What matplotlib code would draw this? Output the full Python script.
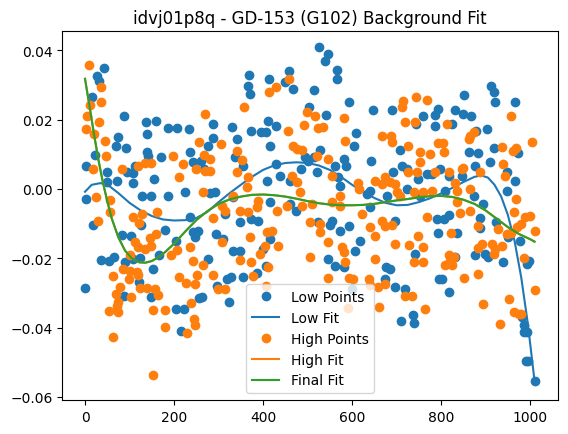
import matplotlib
matplotlib.use("Agg")
import matplotlib.pyplot as plt
import numpy as np

title = "idvj01p8q - GD-153 (G102) Background Fit"

low_points = [
    (43,0.0348),(27,0.0327),(31,0.0313),(16,0.0265),(88,0.0210),(138,0.0192),(159,0.0195),(140,0.0159),
    (187,0.0175),(207,0.0175),(234,0.0173),(74,0.0149),(69,0.0123),(92,0.0118),(22,0.0098),(140,0.0108),
    (142,0.0094),(170,0.0092),(235,0.0106),(242,0.0079),(2,0.0065),(50,0.0050),(112,0.0067),(107,0.0045),
    (95,0.0048),(155,0.0029),(107,0.0017),(50,0.0019),(71,0.0024),(224,-0.0010),(128,-0.0019),(149,-0.0019),
    (187,-0.0019),(2,-0.0030),
    (18,-0.0105),(84,-0.0133),(104,-0.0137),(125,-0.0104),(179,-0.0118),(243,-0.0125),(254,-0.0120),(247,-0.0139),
    (204,-0.0151),(35,-0.0205),(54,-0.0207),(65,-0.0197),(89,-0.0212),(108,-0.0202),(123,-0.0200),(167,-0.0190),
    (153,-0.0231),(122,-0.0268),(0,-0.0286),(87,-0.0310),(149,-0.0313),(204,-0.0346),(222,-0.0346),(257,-0.0315),
    (215,-0.0411),
    (526,0.0409),(368,0.0329),(367,0.0298),(371,0.0274),(413,0.0317),(459,0.0341),(449,0.0308),(467,0.0289),
    (515,0.0287),(288,0.0188),(331,0.0178),(412,0.0197),(429,0.0181),(374,0.0168),(395,0.0165),(407,0.0164),
    (341,0.0144),(287,0.0146),(277,0.0125),(416,0.0125),(337,0.0091),(260,0.0082),(267,0.0058),(504,0.0236),
    (494,0.0091),(502,0.0082),(515,0.0091),(521,0.0048),(356,0.0067),(408,0.0024),(429,0.0072),(437,0.0038),
    (461,0.0024),(485,0.0058),(292,-0.0010),
    (280,-0.0012),(333,-0.0024),(416,-0.0038),(461,-0.0043),(474,-0.0063),(236,-0.0082),(314,-0.0072),(348,-0.0094),
    (374,-0.0087),(389,-0.0091),(294,-0.0130),(311,-0.0144),(416,-0.0144),(332,-0.0178),(348,-0.0178),(399,-0.0173),
    (277,-0.0202),(407,-0.0223),(386,-0.0242),(318,-0.0260),(329,-0.0255),(356,-0.0255),(296,-0.0279),(262,-0.0313),
    (324,-0.0327),
    (545,0.0390),(539,0.0370),(567,0.0344),(566,0.0317),(594,0.0250),(648,0.0228),(689,0.0228),(542,0.0214),
    (609,0.0162),(605,0.0123),(760,0.0210),(794,0.0231),(787,0.0214),(787,0.0183),(744,0.0188),(708,0.0113),
    (527,0.0113),(581,0.0087),(587,0.0067),(562,0.0067),(642,0.0080),(569,0.0034),(573,0.0010),(693,0.0048),
    (712,0.0067),(723,0.0058),(749,0.0029),(768,0.0043),(779,0.0043),(641,-0.0005),(633,-0.0014),(678,-0.0019),
    (723,0.0000),(753,-0.0019),(797,0.0058),
    (554,-0.0091),(551,-0.0104),(573,-0.0120),(524,-0.0096),(592,-0.0106),(618,-0.0149),(607,-0.0178),(641,-0.0053),
    (697,-0.0091),(547,-0.0202),(562,-0.0221),(581,-0.0226),(677,-0.0226),(686,-0.0231),(674,-0.0260),(697,-0.0282),
    (719,-0.0289),(742,-0.0188),(795,-0.0260),(710,-0.0380),(737,-0.0364),(738,-0.0387),(599,-0.0289),
    (912,0.0298),(918,0.0279),(922,0.0250),(967,0.0250),(852,0.0271),(832,0.0228),(850,0.0216),(868,0.0210),
    (824,0.0188),(904,0.0173),(878,0.0168),(918,0.0118),(972,0.0104),(862,0.0106),(884,0.0103),(877,0.0065),
    (909,0.0077),(948,0.0048),(817,0.0038),(847,0.0038),(967,0.0024),(948,-0.0005),(809,-0.0005),(873,-0.0019),
    (894,-0.0043),(791,-0.0087),(806,-0.0087),(817,-0.0075),(794,-0.0127),(836,-0.0127),(888,-0.0085),(888,-0.0113),
    (924,-0.0094),(950,-0.0139),(977,-0.0149),(877,-0.0190),(899,-0.0188),(905,-0.0197),(940,-0.0210),(997,-0.0207),
    (994,-0.0216),(832,-0.0197),(801,-0.0259),(817,-0.0298),(982,-0.0370),(987,-0.0394),(992,-0.0414),(986,-0.0414),
    (990,-0.0496),(996,-0.0496),(1010,-0.0555),
]

high_points = [
    (8,0.0358),(37,0.0293),(35,0.0252),(11,0.0242),(5,0.0210),(31,0.0192),(2,0.0173),(20,0.0159),
    (46,0.0138),(47,0.0095),(17,0.0058),(84,0.0058),(119,0.0065),(134,0.0074),(148,0.0074),(197,0.0096),
    (220,0.0072),(211,0.0034),(250,0.0058),(256,0.0135),(24,-0.0022),(56,-0.0033),
    (57,-0.0067),(29,-0.0091),(108,-0.0082),(127,-0.0072),(162,-0.0067),(122,-0.0099),(159,-0.0130),(146,-0.0142),
    (112,-0.0154),(119,-0.0168),(134,-0.0173),(149,-0.0165),(101,-0.0192),(236,-0.0168),(206,-0.0175),(194,-0.0192),
    (242,-0.0207),(86,-0.0231),(101,-0.0236),(116,-0.0240),(62,-0.0250),(99,-0.0260),(119,-0.0247),(212,-0.0255),
    (228,-0.0271),(246,-0.0274),(78,-0.0284),(123,-0.0286),(140,-0.0286),(157,-0.0289),(69,-0.0303),(164,-0.0306),
    (104,-0.0313),(74,-0.0327),(72,-0.0337),(54,-0.0353),(74,-0.0356),(152,-0.0349),(179,-0.0348),(237,-0.0330),
    (244,-0.0375),(179,-0.0399),(230,-0.0416),(63,-0.0428),(153,-0.0536),(251,-0.0248),
    (269,0.0216),(357,0.0236),(414,0.0281),(429,0.0294),(459,0.0316),(498,0.0221),(517,0.0210),(491,0.0185),
    (524,0.0175),(455,0.0167),(305,0.0130),(467,0.0125),(477,0.0115),(487,0.0113),(267,0.0098),(281,0.0087),
    (341,0.0111),(352,0.0084),(269,0.0053),(281,0.0053),(341,0.0048),(367,0.0034),(365,0.0005),(464,0.0038),
    (476,0.0019),(482,-0.0008),(521,0.0094),(266,-0.0008),(333,-0.0019),
    (307,-0.0048),(314,-0.0063),(348,-0.0063),(367,-0.0067),(386,-0.0053),(389,-0.0034),(431,-0.0063),(453,-0.0048),
    (487,-0.0048),(506,-0.0096),(288,-0.0085),(408,-0.0125),(419,-0.0120),(371,-0.0139),(307,-0.0152),(404,-0.0164),
    (434,-0.0164),(393,-0.0188),(348,-0.0204),(374,-0.0210),(264,-0.0219),(412,-0.0226),(288,-0.0248),(377,-0.0252),
    (506,-0.0197),(299,-0.0289),(314,-0.0289),(407,-0.0279),(247,-0.0394),
    (534,0.0178),(582,0.0204),(714,0.0255),(712,0.0236),(744,0.0265),(768,0.0258),(718,0.0192),(742,0.0192),
    (667,0.0152),(687,0.0152),(689,0.0135),(584,0.0139),(725,0.0123),(753,0.0108),(776,0.0101),(794,0.0133),
    (545,0.0087),(752,0.0077),(554,0.0038),(725,0.0050),(746,0.0048),(787,0.0048),(614,0.0017),(652,0.0024),
    (667,0.0014),(686,0.0021),(697,0.0014),(674,0.0034),(701,-0.0010),(708,-0.0019),(738,-0.0010),(760,-0.0010),
    (779,-0.0005),(573,-0.0019),(615,0.0000),
    (573,-0.0048),(554,-0.0038),(509,-0.0043),(528,-0.0101),(528,-0.0123),(622,-0.0072),(667,-0.0091),(674,-0.0106),
    (689,-0.0104),(641,-0.0111),(652,-0.0135),(697,-0.0159),(768,-0.0082),(749,-0.0135),(729,-0.0162),(759,-0.0168),
    (577,-0.0168),(581,-0.0183),(547,-0.0154),(584,-0.0212),(652,-0.0202),(738,-0.0212),(760,-0.0212),(547,-0.0258),
    (592,-0.0258),(603,-0.0260),(637,-0.0260),(659,-0.0284),(674,-0.0274),(719,-0.0308),(734,-0.0310),(661,-0.0341),
    (764,-0.0346),(641,-0.0277),(590,-0.0344),
    (813,0.0188),(956,0.0210),(1004,0.0137),(865,0.0154),(862,0.0144),(873,0.0164),(804,0.0133),(806,0.0106),
    (937,0.0120),(962,0.0111),(969,0.0118),(939,0.0072),(817,0.0048),(847,0.0058),(850,0.0060),(887,0.0048),
    (944,0.0038),(832,0.0017),(836,-0.0005),(866,0.0000),(969,-0.0029),
    (836,-0.0038),(843,-0.0069),(864,-0.0065),(963,-0.0067),(989,-0.0082),(1000,-0.0079),(980,-0.0101),(971,-0.0111),
    (884,-0.0106),(927,-0.0115),(947,-0.0130),(956,-0.0127),(1012,-0.0120),(822,-0.0127),(892,-0.0159),(884,-0.0171),
    (914,-0.0159),(922,-0.0173),(937,-0.0165),(918,-0.0188),(817,-0.0190),(828,-0.0197),(821,-0.0207),(809,-0.0219),
    (824,-0.0219),(986,-0.0200),(852,-0.0258),(882,-0.0245),(1010,-0.0291),(952,-0.0317),(894,-0.0332),(963,-0.0356),
    (974,-0.0361),(980,-0.0361),(933,-0.0390),
]

low_fit = [
    (0,-0.0008),(15,0.0012),(35,0.0017),(55,0.0008),(75,-0.0012),(100,-0.0040),(125,-0.0062),(150,-0.0078),
    (175,-0.0088),(200,-0.0091),(225,-0.0090),(250,-0.0084),(275,-0.0066),(300,-0.0038),(325,-0.0012),(350,0.0012),
    (375,0.0035),(400,0.0055),(425,0.0068),(450,0.0075),(475,0.0077),(500,0.0075),(525,0.0068),(550,0.0055),
    (575,0.0035),(600,0.0012),(625,-0.0008),(650,-0.0026),(675,-0.0040),(700,-0.0047),(725,-0.0046),(750,-0.0038),
    (775,-0.0027),(800,-0.0013),(825,0.0003),(850,0.0020),(875,0.0035),(890,0.0039),(905,0.0033),(920,0.0012),
    (935,-0.0022),(950,-0.0075),(965,-0.0150),(980,-0.0255),(995,-0.0390),(1010,-0.0555),
]

final_fit = [
    (0,0.0318),(10,0.0240),(20,0.0160),(30,0.0085),(40,0.0020),(50,-0.0035),(60,-0.0085),(75,-0.0140),
    (90,-0.0178),(105,-0.0200),(120,-0.0211),(135,-0.0213),(150,-0.0208),(165,-0.0197),(180,-0.0182),(200,-0.0158),
    (225,-0.0123),(250,-0.0090),(275,-0.0064),(300,-0.0043),(325,-0.0030),(350,-0.0022),(375,-0.0017),(400,-0.0016),
    (425,-0.0018),(450,-0.0022),(475,-0.0028),(500,-0.0035),(525,-0.0041),(550,-0.0045),(575,-0.0047),(600,-0.0047),
    (625,-0.0046),(650,-0.0043),(675,-0.0038),(700,-0.0033),(725,-0.0029),(750,-0.0024),(775,-0.0021),(800,-0.0020),
    (825,-0.0023),(850,-0.0031),(875,-0.0043),(900,-0.0062),(925,-0.0086),(950,-0.0110),(975,-0.0130),(1000,-0.0145),
    (1010,-0.0152),
]

high_fit = list(final_fit)

fig = plt.figure(figsize=(5.68, 4.35), dpi=100)
ax = fig.add_axes([0.1097, 0.0782, 0.8722, 0.8471])

lx, ly = zip(*low_points)
hx, hy = zip(*high_points)
lfx, lfy = zip(*low_fit)
hfx, hfy = zip(*high_fit)
ffx, ffy = zip(*final_fit)

ax.plot(lx, ly, 'o', color='C0', label='Low Points')
ax.plot(lfx, lfy, '-', color='C0', label='Low Fit')
ax.plot(hx, hy, 'o', color='C1', label='High Points')
ax.plot(hfx, hfy, '-', color='C1', label='High Fit')
ax.plot(ffx, ffy, '-', color='C2', label='Final Fit')

ax.set_xlim(-51, 1062)
ax.set_ylim(-0.0609, 0.04545)
ax.set_title(title)
ax.legend(loc='lower center')

fig.savefig('out.png', dpi=100)
